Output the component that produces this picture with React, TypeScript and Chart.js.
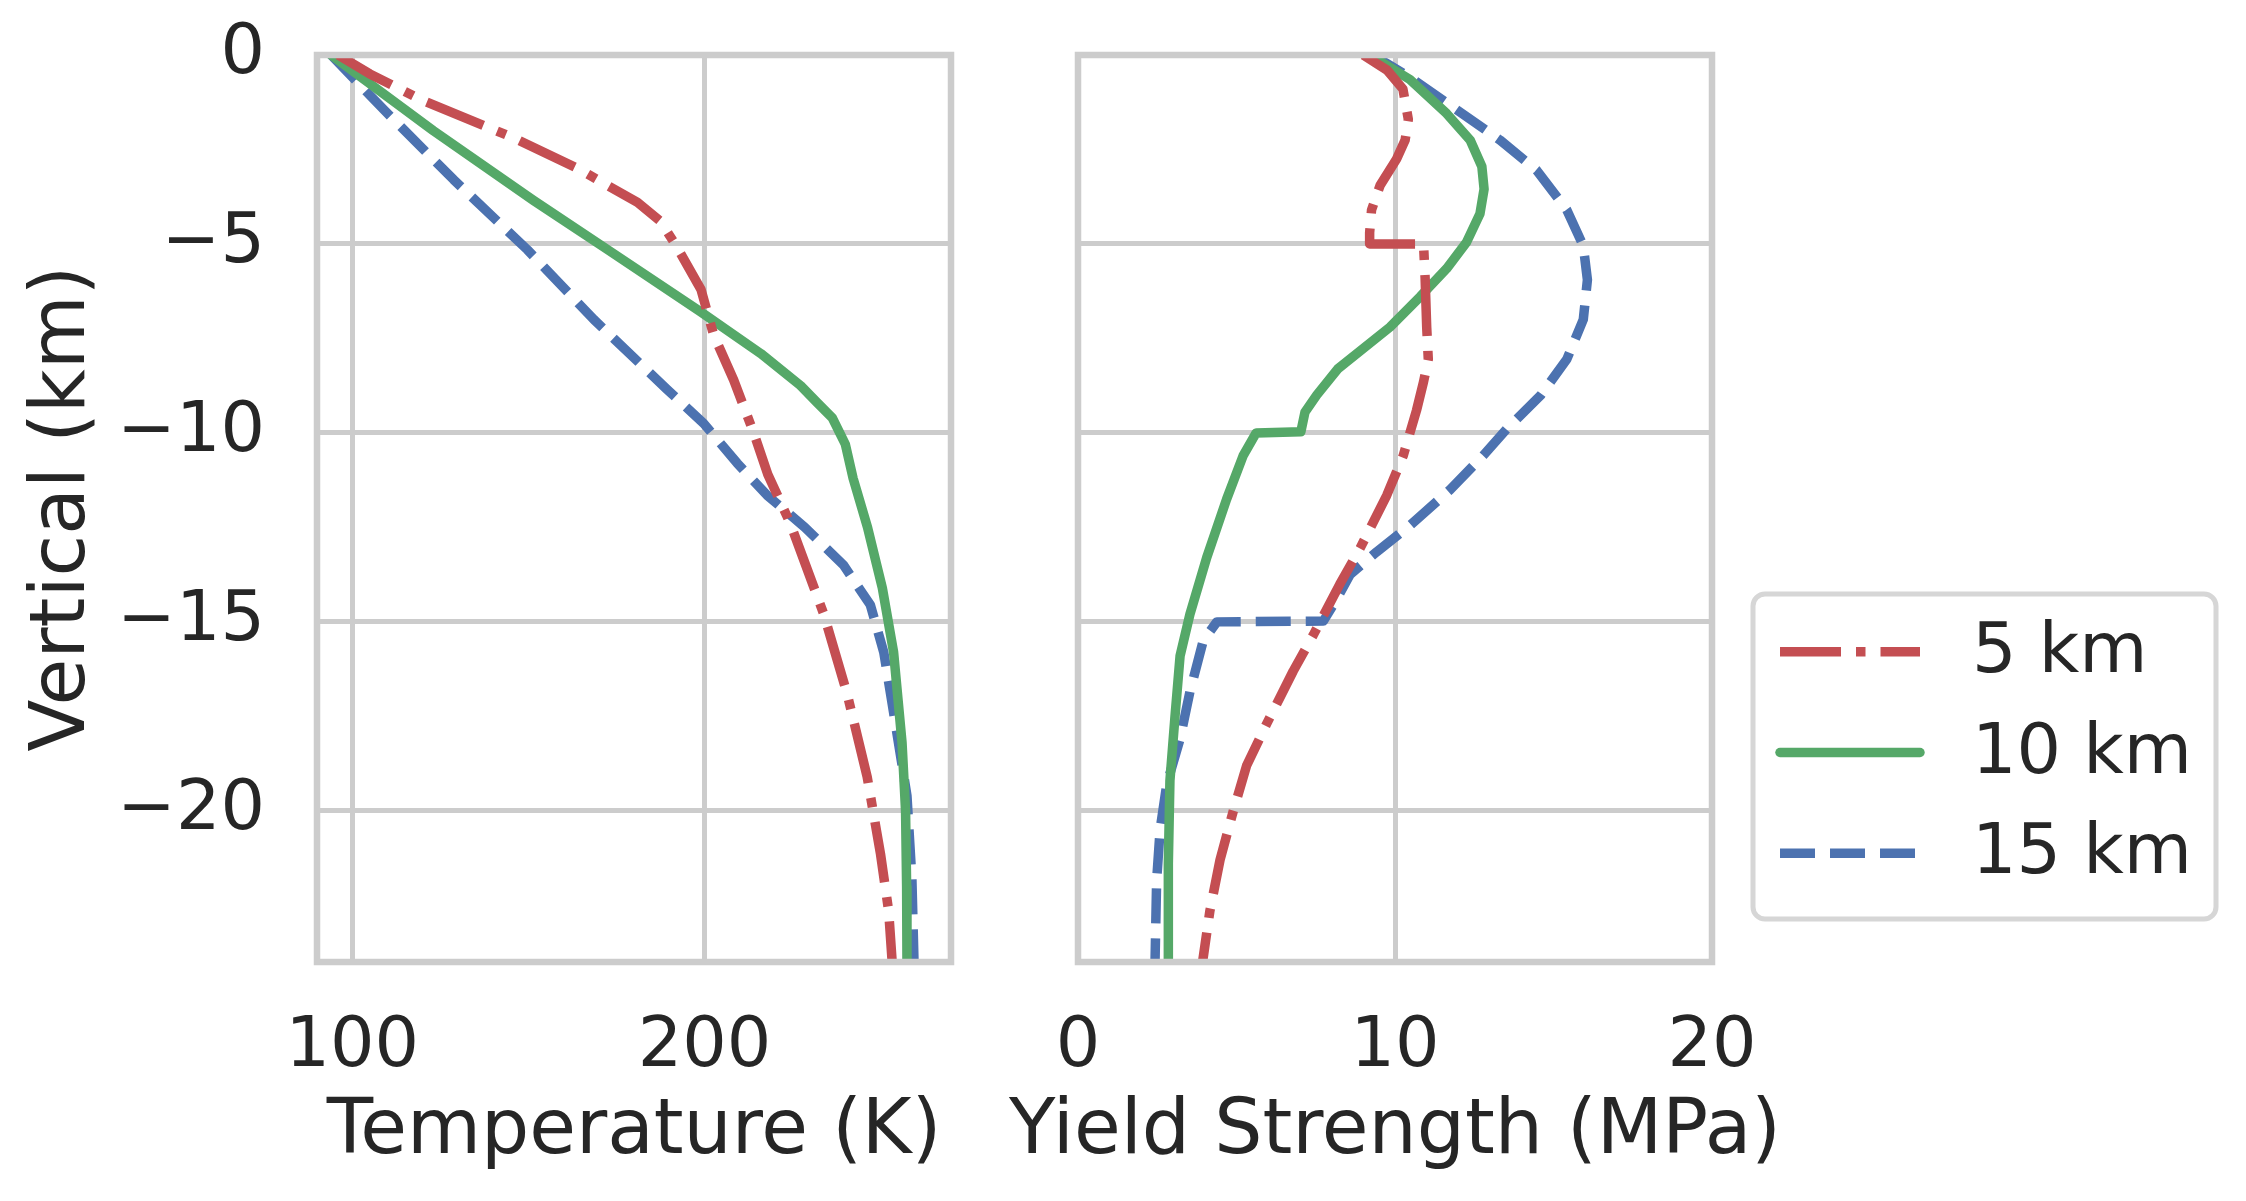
import React, { useRef, useEffect } from 'react';
import { Chart, ChartConfiguration, Plugin } from 'chart.js/auto';

// Shared depth axis (km, negative = below surface)
const depthTicks = [-20, -15, -10, -5, 0];
const tempTicks = [100, 200];
const strengthTicks = [0, 10, 20];

const seriesLabels = ['5 km', '10 km', '15 km'];

// Temperature profiles (K)
const redTempDepth = [0, -0.5, -1.2, -2.2, -3.0, -3.4, -3.9, -4.4, -5.05, -6.2, -7.4, -8.6, -10.0, -11.1, -12.4, -14.8, -16.9, -19.1, -21.15, -22.65, -24];
const redTemp = [96, 105, 120, 146, 164, 171.5, 181, 187.5, 192, 199, 202.6, 208.3, 214, 218, 224.4, 233.9, 240.5, 246.2, 250, 252.3, 253.3];

const greenTempDepth = [0, -2.0, -3.85, -5.15, -6.8, -7.9, -8.75, -9.2, -9.6, -10.3, -11.2, -12.5, -14.1, -15.8, -18.2, -20, -22, -24];
const greenTemp = [94, 123, 151.5, 172.5, 199, 216, 227.3, 232, 236.3, 240, 242.2, 246.3, 250.5, 253.7, 256.1, 257.1, 257.4, 257.5];

const blueTempDepth = [0, -1.45, -3.3, -5.15, -7.0, -8.85, -9.75, -10.8, -11.65, -12.5, -13.5, -14.55, -15.8, -17.4, -19.6, -21.8, -24];
const blueTemp = [94, 109, 128.8, 149.7, 168.6, 189.4, 199.8, 209.3, 217.8, 228.5, 239.5, 247.1, 250.9, 253.7, 257.5, 258.9, 259.5];

// Yield strength profiles (MPa)
const redStrDepth = [0, -0.4, -0.9, -1.7, -2.25, -2.75, -3.45, -4.1, -4.7, -5.0, -5.0, -5.9, -7.2, -8.05, -8.65, -9.4, -10.6, -11.65, -13.05, -14.0, -15.35, -16.3, -17.7, -18.8, -20.0, -21.3, -22.65, -24];
const redStr = [9.0, 9.75, 10.25, 10.42, 10.32, 10.05, 9.53, 9.26, 9.2, 9.2, 10.9, 10.95, 11.0, 11.05, 10.9, 10.68, 10.26, 9.74, 8.9, 8.26, 7.42, 6.79, 5.95, 5.32, 4.9, 4.48, 4.16, 3.93];

const greenStrDepth = [0, -0.65, -1.55, -2.25, -2.95, -3.55, -4.2, -4.95, -5.65, -6.4, -7.2, -8.3, -9.0, -9.45, -9.97, -10.0, -10.6, -11.75, -13.3, -14.8, -15.9, -17.5, -19.2, -21.4, -24];
const greenStr = [9.2, 10.47, 11.63, 12.37, 12.74, 12.81, 12.68, 12.26, 11.63, 10.79, 9.84, 8.2, 7.53, 7.16, 7.03, 5.62, 5.21, 4.69, 4.06, 3.53, 3.22, 3.06, 2.9, 2.85, 2.85];

const blueStrDepth = [0, -0.65, -1.45, -2.25, -3.05, -4.1, -5.05, -5.95, -7.0, -8.05, -9.0, -9.9, -10.6, -11.5, -12.45, -13.15, -13.75, -14.4, -14.98, -15.0, -15.5, -16.85, -18.1, -19.3, -20.5, -21.85, -24];
const blueStr = [9.3, 10.58, 11.95, 13.31, 14.47, 15.42, 15.94, 16.07, 15.94, 15.42, 14.6, 13.52, 12.78, 11.74, 10.47, 9.42, 8.58, 8.16, 7.74, 4.38, 3.95, 3.53, 3.22, 2.8, 2.59, 2.48, 2.43];

const TEXT = '#262626';
const GRID = '#cccccc';
const tickFont = { family: 'DejaVu Sans', size: 70, lineHeight: 1.2 };
const titleFont = { family: 'DejaVu Sans', size: 76, lineHeight: 1.2 };
const LW = 9.5;

const styles = [
  { color: '#C44E52', dash: [61, 15, 9.5, 15], cap: 'butt' },
  { color: '#55A868', dash: [] as number[], cap: 'round' },
  { color: '#4C72B0', dash: [35, 15], cap: 'butt' },
];

const toPoints = (xs: number[], ys: number[]) => xs.map((x, i) => ({ x, y: ys[i] }));

const makeDatasets = (series: { x: number[]; y: number[] }[]) =>
  series.map((s, i) => ({
    label: seriesLabels[i],
    data: toPoints(s.x, s.y),
    borderColor: styles[i].color,
    backgroundColor: styles[i].color,
    borderDash: styles[i].dash,
    borderCapStyle: styles[i].cap as CanvasLineCap,
    borderJoinStyle: 'round' as CanvasLineJoin,
    borderWidth: LW,
    pointRadius: 0,
    tension: 0,
    fill: false,
  }));

const fmtDepth = (v: number | string) => {
  const n = Number(v);
  return n < 0 ? '\u2212' + Math.abs(n) : String(n);
};

// axes frame drawn over the lines, like matplotlib spines
const framePlugin: Plugin = {
  id: 'frame',
  afterDatasetsDraw(chart) {
    const { ctx, chartArea: a } = chart;
    ctx.save();
    ctx.strokeStyle = GRID;
    ctx.lineWidth = 6.5;
    ctx.strokeRect(a.left, a.top, a.right - a.left, a.bottom - a.top);
    ctx.restore();
  },
};

// x axis title, drawn without the width limit Chart.js puts on scale titles
const xTitlePlugin: Plugin = {
  id: 'xTitle',
  afterDraw(chart, _args, opts: any) {
    const { ctx, chartArea } = chart;
    ctx.save();
    ctx.font = `${titleFont.size}px "DejaVu Sans"`;
    ctx.fillStyle = TEXT;
    ctx.textAlign = 'center';
    ctx.textBaseline = 'middle';
    ctx.fillText(opts.text, (chartArea.left + chartArea.right) / 2, chartArea.bottom + 171);
    ctx.restore();
  },
};

const legendBoxPlugin: Plugin = {
  id: 'legendBox',
  afterDraw(chart) {
    const { ctx, chartArea } = chart;
    const left = chartArea.right + 41;
    const top = 594;
    ctx.save();
    ctx.beginPath();
    ctx.roundRect(left, top, 463, 325, 12);
    ctx.fillStyle = '#ffffff';
    ctx.fill();
    ctx.lineWidth = 5;
    ctx.strokeStyle = '#d6d6d6';
    ctx.stroke();
    chart.data.datasets.forEach((ds: any, i) => {
      const y = top + 57.7 + i * 100.8;
      ctx.beginPath();
      ctx.setLineDash(ds.borderDash || []);
      ctx.lineCap = ds.borderCapStyle;
      ctx.lineWidth = ds.borderWidth;
      ctx.strokeStyle = ds.borderColor;
      ctx.moveTo(left + 27, y);
      ctx.lineTo(left + 167, y);
      ctx.stroke();
      ctx.setLineDash([]);
      ctx.fillStyle = TEXT;
      ctx.font = `${tickFont.size}px "DejaVu Sans"`;
      ctx.textBaseline = 'middle';
      ctx.textAlign = 'left';
      ctx.fillText(ds.label, left + 219, y + 2);
    });
    ctx.restore();
  },
};

const baseX = (min: number, max: number, ticks: number[]) => ({
  type: 'linear' as const,
  min,
  max,
  afterBuildTicks: (s: any) => {
    s.ticks = ticks.map((value) => ({ value }));
  },
  afterFit: (s: any) => {
    s.height = 239;
  },
  grid: { color: GRID, lineWidth: 5, drawTicks: false },
  border: { display: false },
  ticks: { font: tickFont, color: TEXT, padding: 44, maxRotation: 0, autoSkip: false },
  title: { display: false },
});

const baseY = (width: number, showLabels: boolean) => ({
  type: 'linear' as const,
  min: -24,
  max: 0,
  afterBuildTicks: (s: any) => {
    s.ticks = depthTicks.map((value) => ({ value }));
  },
  afterFit: (s: any) => {
    s.width = width;
    // keep the tick labels from pushing the plot area down
    s.paddingTop = 0;
    s.paddingBottom = 0;
  },
  grid: { color: GRID, lineWidth: 5, drawTicks: false },
  border: { display: false },
  ticks: { display: showLabels, font: tickFont, color: TEXT, padding: 52, callback: fmtDepth },
  title: { display: showLabels, text: 'Vertical (km)', font: titleFont, color: TEXT, padding: { top: 19, bottom: 0 } },
});

const temperatureConfig = (): ChartConfiguration => ({
  type: 'line',
  data: {
    datasets: makeDatasets([
      { x: redTemp, y: redTempDepth },
      { x: greenTemp, y: greenTempDepth },
      { x: blueTemp, y: blueTempDepth },
    ]) as any,
  },
  options: {
    animation: false,
    responsive: false,
    devicePixelRatio: 1,
    layout: { padding: { top: 55, right: 49, left: 0, bottom: 0 } },
    plugins: { legend: { display: false }, tooltip: { enabled: false }, xTitle: { text: 'Temperature (K)' } } as any,
    scales: {
      x: baseX(90, 270, tempTicks),
      y: baseY(317, true),
    } as any,
  },
  plugins: [framePlugin, xTitlePlugin],
});

const strengthConfig = (): ChartConfiguration => ({
  type: 'line',
  data: {
    datasets: makeDatasets([
      { x: redStr, y: redStrDepth },
      { x: greenStr, y: greenStrDepth },
      { x: blueStr, y: blueStrDepth },
    ]) as any,
  },
  options: {
    animation: false,
    responsive: false,
    devicePixelRatio: 1,
    layout: { padding: { top: 55, right: 534, left: 0, bottom: 0 } },
    plugins: { legend: { display: false }, tooltip: { enabled: false }, xTitle: { text: 'Yield Strength (MPa)' } } as any,
    scales: {
      x: baseX(0, 20, strengthTicks),
      y: baseY(78, false),
    } as any,
  },
  plugins: [framePlugin, xTitlePlugin, legendBoxPlugin],
});

interface PanelProps {
  buildConfig: () => ChartConfiguration;
  left: number;
  width: number;
}

const Panel: React.FC<PanelProps> = ({ buildConfig, left, width }) => {
  const canvasRef = useRef<HTMLCanvasElement | null>(null);

  useEffect(() => {
    if (!canvasRef.current) return;
    const chart = new Chart(canvasRef.current, buildConfig());
    return () => {
      chart.destroy();
    };
  }, [buildConfig]);

  return (
    <canvas
      ref={canvasRef}
      width={width}
      height={1201}
      style={{ position: 'absolute', left, top: 0, width, height: 1201, display: 'block' }}
    />
  );
};

export default function App() {
  return (
    <div style={{ position: 'absolute', left: 0, top: 0, width: 2246, height: 1201, background: '#ffffff', overflow: 'hidden' }}>
      <Panel buildConfig={temperatureConfig} left={0} width={1000} />
      <Panel buildConfig={strengthConfig} left={1000} width={1246} />
    </div>
  );
}
